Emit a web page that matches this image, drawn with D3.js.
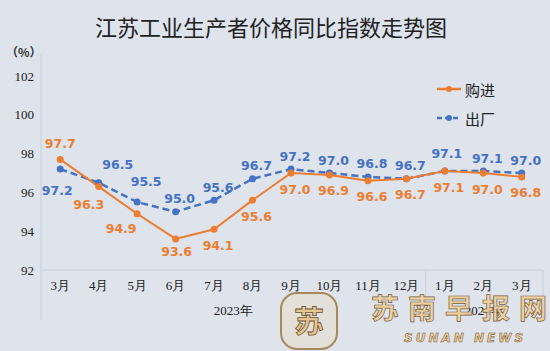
<!DOCTYPE html>
<html>
<head>
<meta charset="utf-8">
<script src="https://cdn.jsdelivr.net/npm/d3@7"></script>
<style>
  body { margin: 0; background: #dee3ec; }
  svg { display: block; }
</style>
</head>
<body>
<svg id="chart" width="550" height="351"></svg>
<script>
var months = ["3月", "4月", "5月", "6月", "7月", "8月", "9月", "10月", "11月", "12月", "1月", "2月", "3月"];
var years = [
  { label: "2023年", from: 0, to: 9 },
  { label: "2024年", from: 10, to: 12 }
];
var purchase = [97.7, 96.3, 94.9, 93.6, 94.1, 95.6, 97.0, 96.9, 96.6, 96.7, 97.1, 97.0, 96.8];
var output = [97.2, 96.5, 95.5, 95.0, 95.6, 96.7, 97.2, 97.0, 96.8, 96.7, 97.1, 97.1, 97.0];
var yTicks = [92, 94, 96, 98, 100, 102];

var orange = "#ed7d31", blue = "#4472c4";

var svg = d3.select("#chart");
var left = 41, right = 541, plotTop = 76, plotBottom = 270;

var x = d3.scaleBand().domain(d3.range(months.length)).range([left, right]);
var y = d3.scaleLinear().domain([92, 102]).range([plotBottom, plotTop]);
var cx = function(i) { return x(i) + x.bandwidth() / 2; };
var groupEnd = function(g) { return g.to === months.length - 1 ? right + 2 : x(g.to) + x.bandwidth(); };

// title
svg.append("text")
    .attr("x", 271).attr("y", 36)
    .attr("text-anchor", "middle")
    .style("font-family", "'Noto Sans CJK SC', sans-serif")
    .style("font-size", "22px")
    .style("fill", "#222")
    .text("江苏工业生产者价格同比指数走势图");

svg.append("text")
    .attr("x", 6).attr("y", 57)
    .style("font-family", "'Noto Sans CJK SC', sans-serif")
    .style("font-size", "12px")
    .style("font-weight", "bold")
    .style("fill", "#333")
    .text("（%）");

// frame lines
var line = "#c9cfd9";
svg.append("line").attr("x1", left).attr("x2", left).attr("y1", 54).attr("y2", 320)
    .style("stroke", line);
svg.append("line").attr("x1", left).attr("x2", right + 2).attr("y1", plotBottom).attr("y2", plotBottom)
    .style("stroke", line);
years.forEach(function(g) {
  var xe = groupEnd(g);
  svg.append("line").attr("x1", xe).attr("x2", xe).attr("y1", plotBottom).attr("y2", 320)
      .style("stroke", line);
});

// y axis
var yAxis = svg.append("g")
    .attr("transform", "translate(" + left + ",0)")
    .call(d3.axisLeft(y).tickValues(yTicks).tickSize(0).tickPadding(7));
yAxis.select(".domain").remove();
yAxis.selectAll("text")
    .style("font-family", "'Liberation Serif', serif")
    .style("font-size", "13px")
    .style("fill", "#222");

// x axis
var xAxis = svg.append("g")
    .attr("transform", "translate(0," + plotBottom + ")")
    .call(d3.axisBottom(x).tickFormat(function(i) { return months[i]; }).tickSize(0).tickPadding(11));
xAxis.select(".domain").remove();
xAxis.selectAll("text")
    .style("font-family", "'Liberation Serif', serif")
    .style("font-size", "13px")
    .style("fill", "#222");

svg.selectAll(".year").data(years).enter().append("text")
    .attr("x", function(g) { return (x(g.from) + groupEnd(g)) / 2; })
    .attr("y", 315)
    .attr("text-anchor", "middle")
    .style("font-family", "'Liberation Serif', serif")
    .style("font-size", "13px")
    .style("fill", "#222")
    .text(function(g) { return g.label; });

// series
var gen = d3.line().x(function(d, i) { return cx(i); }).y(function(d) { return y(d); });

svg.append("path").datum(output)
    .attr("d", gen)
    .style("fill", "none").style("stroke", blue)
    .style("stroke-width", 2.5).style("stroke-dasharray", "7,4");
svg.append("path").datum(purchase)
    .attr("d", gen)
    .style("fill", "none").style("stroke", orange).style("stroke-width", 2);

svg.selectAll(".pb").data(output).enter().append("circle")
    .attr("cx", function(d, i) { return cx(i); }).attr("cy", y).attr("r", 3.5)
    .style("fill", blue);
svg.selectAll(".po").data(purchase).enter().append("circle")
    .attr("cx", function(d, i) { return cx(i); }).attr("cy", y).attr("r", 3.5)
    .style("fill", orange);

// value labels
var blueShift = { 0: [-3, 21], 1: [19, -18], 2: [9, -21], 10: [2, -18] };
var orangeShift = { 0: [0, -16], 1: [-10, 18], 2: [-16, 15], 3: [1, 13] };

function labels(data, color, shift, dx, dy) {
  svg.selectAll(null).data(data).enter().append("text")
      .attr("x", function(d, i) { return cx(i) + (shift[i] ? shift[i][0] : dx); })
      .attr("y", function(d, i) { return y(d) + (shift[i] ? shift[i][1] : dy); })
      .attr("text-anchor", "middle")
      .attr("dominant-baseline", "central")
      .style("font-family", "'DejaVu Sans', sans-serif")
      .style("font-size", "12.5px")
      .style("font-weight", "bold")
      .style("fill", color)
      .text(function(d) { return d.toFixed(1); });
}
labels(output, blue, blueShift, 4, -13);
labels(purchase, orange, orangeShift, 4, 16);

// legend
var legend = [
  { name: "购进", color: orange, dash: null, y: 89 },
  { name: "出厂", color: blue, dash: "5,3", y: 118 }
];
var lg = svg.selectAll(".lg").data(legend).enter().append("g");
lg.append("line")
    .attr("x1", 437).attr("x2", 461)
    .attr("y1", function(d) { return d.y; }).attr("y2", function(d) { return d.y; })
    .style("stroke", function(d) { return d.color; })
    .style("stroke-width", 2.5)
    .style("stroke-dasharray", function(d) { return d.dash; });
lg.append("circle")
    .attr("cx", 449).attr("cy", function(d) { return d.y; }).attr("r", 3)
    .style("fill", function(d) { return d.color; });
lg.append("text")
    .attr("x", 465).attr("y", function(d) { return d.y; })
    .attr("dominant-baseline", "central")
    .style("font-family", "'Noto Sans CJK SC', sans-serif")
    .style("font-size", "15px")
    .style("fill", "#222")
    .text(function(d) { return d.name; });

// watermark
var wm = svg.append("g");
wm.append("rect")
    .attr("x", 281).attr("y", 293).attr("width", 56).attr("height", 56).attr("rx", 16)
    .style("fill", "#e8dccb").style("fill-opacity", 0.55)
    .style("stroke", "#a8885e").style("stroke-width", 2);
wm.append("text")
    .attr("x", 309).attr("y", 319)
    .attr("text-anchor", "middle").attr("dominant-baseline", "central")
    .style("font-family", "'Noto Sans CJK SC', sans-serif")
    .style("font-size", "30px").style("font-weight", "bold")
    .style("fill", "#e6c690").style("stroke", "#6b5030").style("stroke-width", 0.8)
    .text("苏");
wm.append("text")
    .attr("x", 371).attr("y", 307)
    .attr("dominant-baseline", "central")
    .style("font-family", "'Noto Sans CJK SC', sans-serif")
    .style("font-size", "28px").style("font-weight", "bold")
    .style("letter-spacing", "9px")
    .style("fill", "#f0cf98").style("fill-opacity", 0.9)
    .style("stroke", "#7a6040").style("stroke-width", 0.7)
    .text("苏南早报网");
wm.append("text")
    .attr("x", 404).attr("y", 338)
    .attr("dominant-baseline", "central")
    .style("font-family", "'DejaVu Sans', sans-serif")
    .style("font-size", "12px").style("font-weight", "bold").style("font-style", "italic")
    .style("letter-spacing", "3px")
    .style("fill", "#f0cf98").style("stroke", "#6b5030").style("stroke-width", 0.5)
    .text("SUNAN NEWS");
</script>
</body>
</html>
